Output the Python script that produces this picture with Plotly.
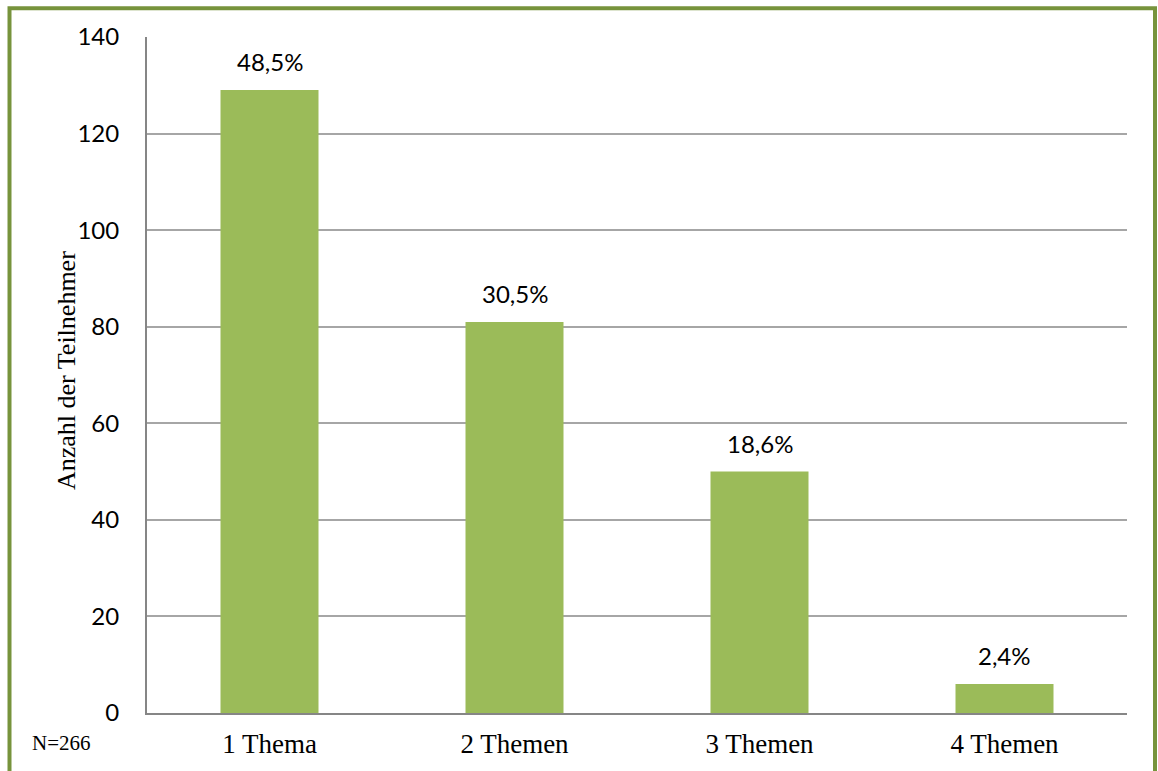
import plotly.graph_objects as go

categories = ["1 Thema", "2 Themen", "3 Themen", "4 Themen"]
counts = [129, 81, 50, 6]
pct_labels = ["48,5%", "30,5%", "18,6%", "2,4%"]
y_ticks = [0, 20, 40, 60, 80, 100, 120, 140]
note_text = "N=266"
y_title = "Anzahl der Teilnehmer"

W, H = 1158, 771
L, R, T, B = 147, 31, 37, 54
pw, ph = W - L - R, H - T - B

def px_x(x):
    return (x - L) / pw

def px_y(y):
    return (H - B - y) / ph

bar_color = "#9BBB59"
frame_color = "#77933C"
sans = "Lato, Open Sans, sans-serif"
serif = "Liberation Serif, Times New Roman, serif"

fig = go.Figure()
fig.add_trace(go.Bar(
    x=categories, y=counts, marker=dict(color=bar_color, line=dict(width=0)),
    width=0.4, hoverinfo="skip"
))

for c, v, t in zip(categories, counts, pct_labels):
    fig.add_annotation(x=c, y=v, text=t, showarrow=False, yanchor="bottom",
                       yshift=12, font=dict(family=sans, size=24, color="#000000"))

fig.add_annotation(xref="paper", yref="paper", x=px_x(61), y=px_y(747), text=note_text,
                   showarrow=False, xanchor="center", yanchor="middle",
                   font=dict(family=serif, size=21, color="#000000"))

fig.add_annotation(xref="paper", yref="paper", x=px_x(66), y=px_y(373), text=y_title,
                   textangle=-90, showarrow=False, xanchor="center", yanchor="middle",
                   font=dict(family=serif, size=26, color="#000000"))

fig.add_shape(type="rect", xref="paper", yref="paper",
              x0=px_x(9.5), x1=px_x(1155), y0=px_y(778), y1=px_y(8),
              line=dict(color=frame_color, width=4), fillcolor="rgba(0,0,0,0)", layer="above")

fig.update_layout(
    width=W, height=H,
    margin=dict(l=L, r=R, t=T, b=B, pad=0),
    paper_bgcolor="white", plot_bgcolor="white",
    showlegend=False, bargap=0.6,
    xaxis=dict(
        showline=True, linecolor="#868686", linewidth=2, showgrid=False,
        ticks="", tickfont=dict(family=serif, size=27, color="#000000"),
        ticklabelstandoff=6, fixedrange=True,
    ),
    yaxis=dict(
        range=[0, 140], tickvals=y_ticks, showline=True, linecolor="#868686", linewidth=2,
        showgrid=True, gridcolor="#A6A6A6", gridwidth=2, zeroline=False,
        ticks="", tickfont=dict(family=sans, size=24, color="#000000"),
        ticklabelstandoff=21, fixedrange=True,
    ),
)

fig.write_html("out.html")
